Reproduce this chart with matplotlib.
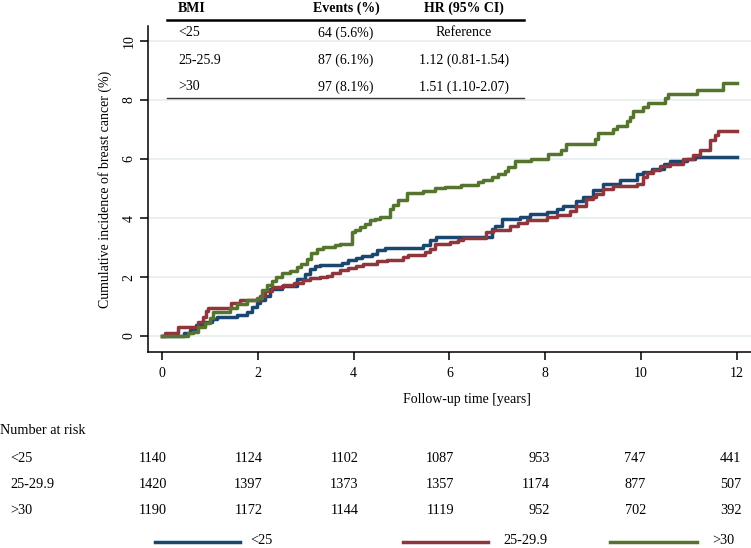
import matplotlib.pyplot as plt
from matplotlib.lines import Line2D
from matplotlib.transforms import blended_transform_factory

plt.rcParams['font.family'] = ['Liberation Serif', 'DejaVu Serif']

# Kaplan-Meier style cumulative incidence (%)
time_lt25 = [0, 0.45, 0.58, 0.72, 0.90, 1.04, 1.14, 1.56, 1.77, 1.87, 1.98, 2.05, 2.15, 2.25, 2.50,
             2.81, 2.98, 3.09, 3.19, 3.30, 3.75, 3.89, 4.06, 4.17, 4.38, 4.48, 4.65, 5.45, 5.59, 5.73,
             5.87, 6.88, 6.95, 7.09, 7.47, 7.68, 8.03, 8.24, 8.37, 8.65, 8.79, 9.00, 9.21, 9.56, 9.91,
             10.05, 10.22, 10.47, 10.61, 10.95, 11.13, 12.0]
cum_lt25 = [0, 0.09, 0.20, 0.37, 0.49, 0.57, 0.63, 0.71, 0.83, 1.00, 1.11, 1.22, 1.34, 1.60, 1.70,
            1.94, 2.11, 2.28, 2.37, 2.40, 2.48, 2.57, 2.65, 2.71, 2.79, 2.90, 3.00, 3.08, 3.25, 3.34,
            3.36, 3.63, 3.74, 3.97, 4.02, 4.14, 4.19, 4.30, 4.42, 4.59, 4.70, 4.96, 5.14, 5.28, 5.50,
            5.56, 5.67, 5.82, 5.93, 6.00, 6.08, 6.08]

time_25 = [0, 0.06, 0.34, 0.76, 0.86, 0.92, 0.97, 1.45, 1.63, 2.05, 2.15, 2.29, 2.53, 2.75, 2.95,
           3.10, 3.30, 3.44, 3.54, 3.71, 3.89, 4.06, 4.20, 4.48, 4.69, 5.04, 5.14, 5.49, 5.59, 5.70,
           6.01, 6.18, 6.29, 6.77, 6.91, 7.26, 7.44, 7.61, 8.03, 8.24, 8.51, 8.65, 8.86, 9.00, 9.07,
           9.21, 9.42, 9.91, 10.05, 10.12, 10.26, 10.40, 10.61, 10.88, 11.09, 11.23, 11.44, 11.54,
           11.61, 12.0]
cum_25 = [0, 0.09, 0.32, 0.49, 0.66, 0.85, 0.95, 1.11, 1.22, 1.34, 1.52, 1.66, 1.73, 1.79, 1.90,
          1.95, 2.01, 2.05, 2.14, 2.23, 2.30, 2.37, 2.45, 2.54, 2.57, 2.68, 2.76, 2.85, 2.96, 3.11,
          3.18, 3.25, 3.32, 3.51, 3.59, 3.74, 3.83, 3.93, 4.02, 4.11, 4.25, 4.42, 4.64, 4.70, 4.82,
          4.99, 5.07, 5.16, 5.39, 5.53, 5.64, 5.75, 5.84, 5.99, 6.12, 6.29, 6.63, 6.80,
          6.95, 6.95]

time_gt30 = [0, 0.55, 0.65, 0.76, 0.90, 1.00, 1.07, 1.42, 1.56, 1.77, 1.98, 2.08, 2.19, 2.29, 2.39,
             2.50, 2.67, 2.81, 2.91, 3.02, 3.12, 3.23, 3.37, 3.61, 3.71, 3.96, 4.03, 4.13, 4.24, 4.34,
             4.44, 4.55, 4.76, 4.83, 4.93, 5.11, 5.45, 5.70, 5.91, 6.25, 6.60, 6.70, 6.88, 7.02, 7.16,
             7.23, 7.37, 7.71, 8.06, 8.34, 8.44, 9.04, 9.11, 9.42, 9.49, 9.70, 9.77, 9.84, 10.05, 10.15,
             10.50, 10.57, 11.16, 11.72, 12.0]
cum_gt30 = [0, 0.09, 0.15, 0.32, 0.43, 0.60, 0.83, 0.94, 1.09, 1.22, 1.28, 1.56, 1.73, 1.88, 2.00,
            2.13, 2.22, 2.34, 2.45, 2.62, 2.80, 2.96, 3.02, 3.08, 3.13, 3.53, 3.59, 3.70, 3.81, 3.92,
            3.98, 4.04, 4.29, 4.43, 4.60, 4.85, 4.92, 5.00, 5.06, 5.13, 5.21, 5.29, 5.38, 5.49, 5.60,
            5.74, 5.94, 6.00, 6.17, 6.30, 6.52, 6.69, 6.88, 7.00, 7.11, 7.28, 7.42, 7.63, 7.76, 7.91,
            8.08, 8.19, 8.35, 8.58, 8.58]

group_labels = ['<25', '25-29.9', '>30']
group_colors = ['#1a476f', '#90353b', '#55752f']

# number at risk table
risk_times = [0, 2, 4, 6, 8, 10, 12]
risk_lt25 = [1140, 1124, 1102, 1087, 953, 747, 441]
risk_25 = [1420, 1397, 1373, 1357, 1174, 877, 507]
risk_gt30 = [1190, 1172, 1144, 1119, 952, 702, 392]

# inset table
table_header = ['BMI', 'Events (%)', 'HR (95% CI)']
table_bmi = ['<25', '25-25.9', '>30']
table_events = ['64 (5.6%)', '87 (6.1%)', '97 (8.1%)']
table_hr = ['Reference', '1.12 (0.81-1.54)', '1.51 (1.10-2.07)']

W, H = 751, 548


def fx(px):
    return px / W


def fy(py):
    return 1 - py / H


fig = plt.figure(figsize=(W / 100, H / 100), dpi=100)
ax = fig.add_axes([fx(148), fy(352), (751 - 148) / W, (352 - 26) / H])

curves = [(time_lt25, cum_lt25), (time_25, cum_25), (time_gt30, cum_gt30)]
for (t, c), col in zip(curves, group_colors):
    ax.step(t, c, where='post', color=col, lw=2.5, zorder=3)

ax.set_xlim(-0.292, 12.296)
ax.set_ylim(-0.542, 10.508)
ax.set_xticks(range(0, 13, 2))
ax.set_yticks(range(0, 11, 2))
ax.grid(axis='y', color='#e5eef0', lw=1.2, zorder=0)
ax.set_axisbelow(True)
for s in ['top', 'right']:
    ax.spines[s].set_visible(False)
for s in ['left', 'bottom']:
    ax.spines[s].set_linewidth(1.1)
ax.tick_params(axis='both', direction='out', length=6, width=1.1, labelsize=10)
ax.tick_params(axis='x', pad=5)
ax.tick_params(axis='y', pad=3)
for lab in ax.get_yticklabels():
    lab.set_rotation(90)
    lab.set_va('center')

ax.set_ylabel('Cumulative incidence of breast cancer (%)', fontsize=10)
ax.yaxis.set_label_coords(-0.060, 0.5)
fig.text(fx(467), fy(400), 'Follow-up time [years]', ha='center', va='center', fontsize=10)

# inset table at top
col_left = 178
col_events = 346
col_hr = 464
fig.text(fx(col_left), fy(8), table_header[0], ha='left', va='center', fontsize=10, fontweight='bold')
fig.text(fx(col_events), fy(8), table_header[1], ha='center', va='center', fontsize=10, fontweight='bold')
fig.text(fx(col_hr), fy(8), table_header[2], ha='center', va='center', fontsize=10, fontweight='bold')
fig.add_artist(Line2D([fx(167), fx(524)], [fy(19.5), fy(19.5)], color='black', lw=1.8))
row_y = [33, 60, 87]
for i in range(3):
    fig.text(fx(col_left), fy(row_y[i]), table_bmi[i], ha='left', va='center', fontsize=10)
    fig.text(fx(col_events), fy(row_y[i]), table_events[i], ha='center', va='center', fontsize=10)
    fig.text(fx(col_hr), fy(row_y[i]), table_hr[i], ha='center', va='center', fontsize=10)
fig.add_artist(Line2D([fx(167), fx(524)], [fy(98), fy(98)], color='#333333', lw=1.0))

# number at risk
trans = blended_transform_factory(ax.transData, fig.transFigure)
fig.text(fx(0), fy(431), 'Number at risk', ha='left', va='center', fontsize=10.3)
risk_rows = [risk_lt25, risk_25, risk_gt30]
risk_y = [459, 485, 511]
for lab, vals, yy in zip(group_labels, risk_rows, risk_y):
    fig.text(fx(10), fy(yy), lab, ha='left', va='center', fontsize=10.3)
    for t, v in zip(risk_times, vals):
        ax.text(t + 0.1, fy(yy), str(v), transform=trans, ha='right', va='center',
                fontsize=10.3, clip_on=False)

# legend at bottom
leg_lines = [(155, 240, 250), (403, 488, 503), (610, 697, 712)]
for (x0, x1, xt), lab, col in zip(leg_lines, group_labels, group_colors):
    fig.add_artist(Line2D([fx(x0), fx(x1)], [fy(542), fy(542)], color=col, lw=2.5))
    fig.text(fx(xt), fy(540), lab, ha='left', va='center', fontsize=10.3)

fig.savefig('out.png', dpi=100)
